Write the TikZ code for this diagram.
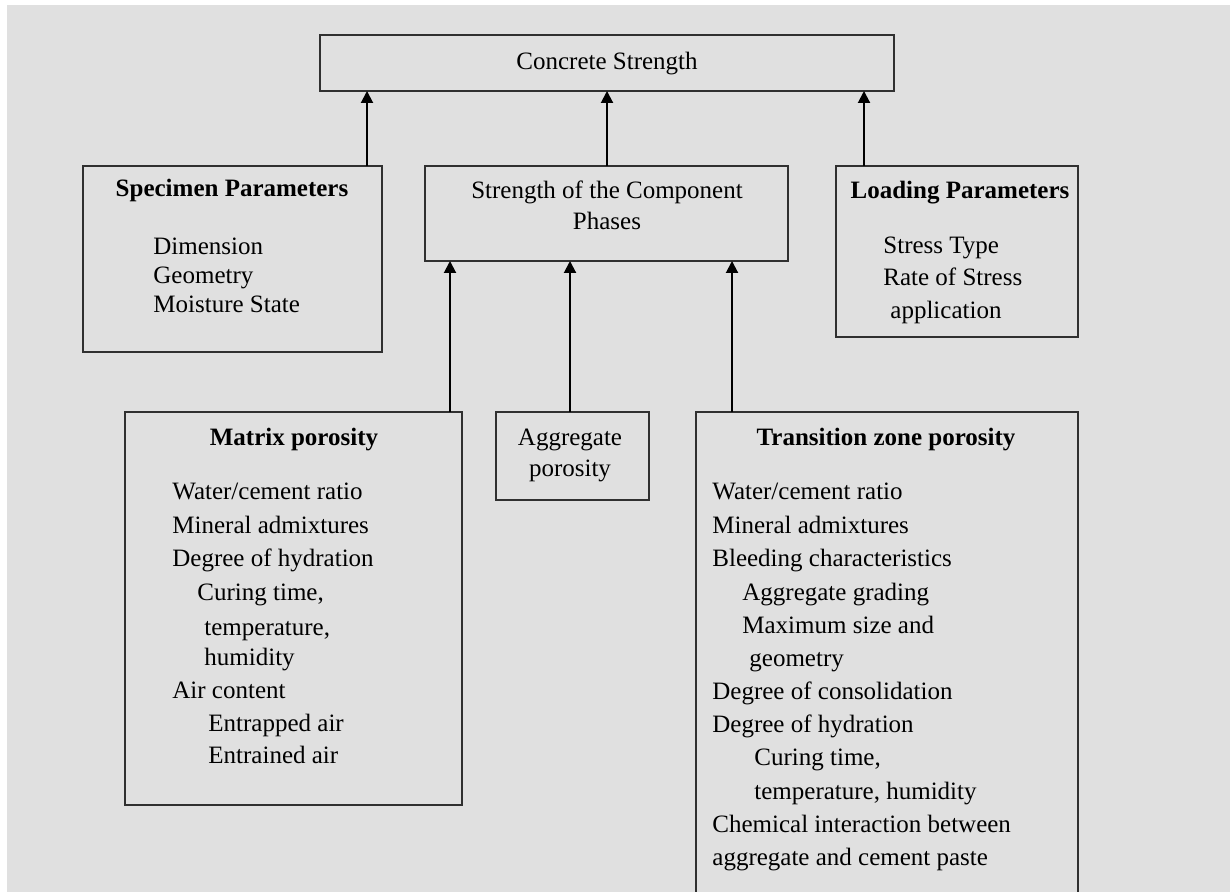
\documentclass[tikz,border=0pt]{standalone}
\usepackage{fontspec}
\setmainfont{Liberation Serif}
\usetikzlibrary{arrows.meta}
\definecolor{bgcol}{HTML}{E0E0E0}
\definecolor{boxcol}{HTML}{303030}
\begin{document}
\begin{tikzpicture}[x=0.5pt,y=-0.5pt,
  box/.style={draw=boxcol, line width=1pt, inner sep=0pt, outer sep=0pt, anchor=north west},
  txt/.style={inner sep=0pt, anchor=base west, font=\fontsize{12.5}{15}\selectfont},
  ctxt/.style={inner sep=0pt, anchor=base, font=\fontsize{12.5}{15}\selectfont},
  btxt/.style={inner sep=0pt, anchor=base, font=\fontsize{12.5}{15}\selectfont\bfseries},
  arr/.style={draw=black, line width=1pt, -{Triangle[length=6pt,width=6pt]}}]
\useasboundingbox (0,0) rectangle (1230,892);
\clip (0,0) rectangle (1230,892);
\fill[white] (0,0) rectangle (1230,892);
\fill[bgcol] (7,5) rectangle (1230,892);

% boxes
\node[box, minimum width=287pt, minimum height=28pt] (cs) at (320,35) {};
\node[box, minimum width=181.5pt, minimum height=47.5pt] (ph) at (425,166) {};
\node[box, minimum width=149.5pt, minimum height=93pt] (sp) at (83,166) {};
\node[box, minimum width=121pt, minimum height=85.5pt] (lp) at (836,166) {};
\node[box, minimum width=168.5pt, minimum height=196.5pt] (mp) at (125,412) {};
\node[box, minimum width=76.5pt, minimum height=44pt] (ap) at (496,412) {};
\node[box, minimum width=191pt, minimum height=250pt] (tz) at (696,412) {};

% arrow x positions
\coordinate (xa) at (367,0);
\coordinate (xb) at (607,0);
\coordinate (xc) at (864,0);
\coordinate (xd) at (450,0);
\coordinate (xe) at (570,0);
\coordinate (xf) at (732,0);

\draw[arr] (sp.north -| xa) -- (cs.south -| xa);
\draw[arr] (ph.north -| xb) -- (cs.south -| xb);
\draw[arr] (lp.north -| xc) -- (cs.south -| xc);
\draw[arr] (mp.north -| xd) -- (ph.south -| xd);
\draw[arr] (ap.north -| xe) -- (ph.south -| xe);
\draw[arr] (tz.north -| xf) -- (ph.south -| xf);

% texts
\node[ctxt] (t1) at (607,70) {Concrete Strength};
\node[ctxt] (t2) at (607,199) {Strength of the Component};
\node[ctxt] (t3) at (607,230) {Phases};

\node[btxt] (s0) at (232,197) {Specimen Parameters};
\node[txt] (s1) at (153,255) {Dimension};
\node[txt] (s2) at (153,284) {Geometry};
\node[txt] (s3) at (153,313) {Moisture State};

\node[btxt] (l0) at (960,199) {Loading Parameters};
\node[txt] (l1) at (883,254) {Stress Type};
\node[txt] (l2) at (883,286) {Rate of Stress};
\node[txt] (l3) at (890,319) {application};

\node[ctxt] (a1) at (570,445) {Aggregate};
\node[ctxt] (a2) at (570,476) {porosity};

\node[btxt] (m0) at (294,445) {Matrix porosity};
\node[txt] (m1) at (172,499) {Water/cement ratio};
\node[txt] (m2) at (172,533) {Mineral admixtures};
\node[txt] (m3) at (172,566) {Degree of hydration};
\node[txt] (m4) at (197,600) {Curing time,};
\node[txt] (m5) at (204,635) {temperature,};
\node[txt] (m6) at (204,665) {humidity};
\node[txt] (m7) at (172,698) {Air content};
\node[txt] (m8) at (208,731) {Entrapped air};
\node[txt] (m9) at (208,763) {Entrained air};

\node[btxt] (z0) at (886,445) {Transition zone porosity};
\node[txt] (z1) at (712,499) {Water/cement ratio};
\node[txt] (z2) at (712,533) {Mineral admixtures};
\node[txt] (z3) at (712,566) {Bleeding characteristics};
\node[txt] (z4) at (742,600) {Aggregate grading};
\node[txt] (z5) at (742,633) {Maximum size and};
\node[txt] (z6) at (749,666) {geometry};
\node[txt] (z7) at (712,699) {Degree of consolidation};
\node[txt] (z8) at (712,732) {Degree of hydration};
\node[txt] (z9) at (754,765) {Curing time,};
\node[txt] (z10) at (754,799) {temperature, humidity};
\node[txt] (z11) at (712,832) {Chemical interaction between};
\node[txt] (z12) at (712,865) {aggregate and cement paste};
\end{tikzpicture}
\end{document}
